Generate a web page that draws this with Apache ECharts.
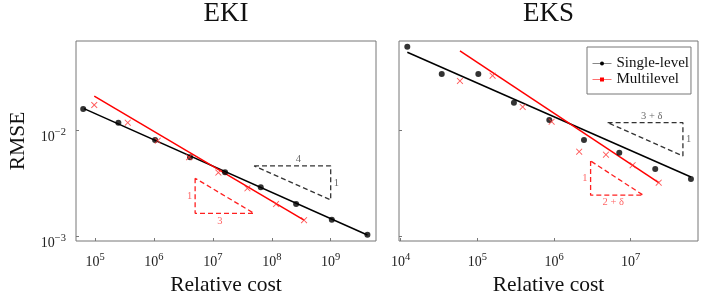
<!DOCTYPE html>
<html><head><meta charset="utf-8">
<script src="https://cdn.jsdelivr.net/npm/echarts@6/dist/echarts.min.js"></script>
<style>html,body{margin:0;padding:0;background:#fff}#c{width:706px;height:294px}</style>
</head><body><div id="c"></div>
<script>
// ---------- data ----------
const panelTitles = ['EKI', 'EKS'];
const xTicksEKI = [1e5, 1e6, 1e7, 1e8, 1e9];
const xTicksEKS = [1e4, 1e5, 1e6, 1e7];
const yTicks = [1e-3, 1e-2];

const ekiSingleX = [6.3e4, 2.49e5, 1.045e6, 4.1e6, 1.61e7, 6.5e7, 2.59e8, 1.045e9, 4.2e9];
const ekiSingleY = [0.0160, 0.0119, 0.00817, 0.00561, 0.00405, 0.00292, 0.00203, 0.00144, 0.00104];
const ekiMultiX = [9.7e4, 3.59e5, 1.16e6, 3.95e6, 1.24e7, 3.86e7, 1.18e8, 3.53e8];
const ekiMultiY = [0.01746, 0.0119, 0.00805, 0.00561, 0.00402, 0.00286, 0.00203, 0.00143];
const ekiSingleFitX = [6.5e4, 4.2e9];
const ekiSingleFitY = [0.01615, 0.001037];
const ekiMultiFitX = [9.7e4, 3.53e8];
const ekiMultiFitY = [0.0212, 0.00143];

const eksSingleX = [1.22e4, 3.43e4, 1.03e5, 3.0e5, 8.68e5, 2.46e6, 7.1e6, 2.09e7, 6.11e7];
const eksSingleY = [0.0620, 0.0343, 0.0343, 0.01837, 0.01262, 0.00817, 0.0062, 0.00435, 0.0035];
const eksMultiX = [5.93e4, 1.58e5, 3.9e5, 9.31e5, 2.13e6, 4.76e6, 1.06e7, 2.32e7];
const eksMultiY = [0.02944, 0.03304, 0.01675, 0.01216, 0.00634, 0.00594, 0.00472, 0.00323];
const eksSingleFitX = [1.22e4, 6.11e7];
const eksSingleFitY = [0.0549, 0.00365];
const eksMultiFitX = [5.93e4, 2.32e7];
const eksMultiFitY = [0.0565, 0.00323];

// slope triangles
const ekiTriBlackX = [5e7, 1e9, 1e9, 5e7];
const ekiTriBlackY = [0.00465, 0.00465, 0.00222, 0.00465];
const ekiTriRedX = [5e6, 5e6, 5e7, 5e6];
const ekiTriRedY = [0.00356, 0.00166, 0.00166, 0.00356];
const eksTriBlackX = [5e6, 4.8e7, 4.8e7, 5e6];
const eksTriBlackY = [0.0119, 0.0119, 0.00577, 0.0119];
const eksTriRedX = [3e6, 3e6, 1.46e7, 3e6];
const eksTriRedY = [0.00518, 0.00246, 0.00246, 0.00518];

// triangle labels: [black run, black rise, red rise, red run]
const ekiTriLabels = ['4', '1', '1', '3'];
const ekiTriLabelX = [2.83e8, 1e9, 5e6, 1.32e7];
const ekiTriLabelY = [0.00465, 0.00319, 0.00238, 0.00166];
const eksTriLabels = ['3 + δ', '1', '1', '2 + δ'];
const eksTriLabelX = [1.88e7, 4.8e7, 3e6, 5.93e6];
const eksTriLabelY = [0.0119, 0.0083, 0.00352, 0.00246];

const legendNames = ['Single-level', 'Multilevel'];
const xName = 'Relative cost';
const yName = 'RMSE';

// ---------- styles ----------
const FONT = '"Liberation Serif", "DejaVu Serif", serif';
const FRAME = '#777';
const pts = (xs, ys) => xs.map((x, i) => [x, ys[i]]);
const CROSS = 'path://M0,1L1,0L5,4L9,0L10,1L6,5L10,9L9,10L5,6L1,10L0,9L4,5Z';

function fmt(v) {
  const e = Math.round(Math.log10(v));
  return '{b|10}{s|' + (e < 0 ? '\u2212' + (-e) : e) + '}';
}
const rich = {
  b: { fontSize: 14, fontFamily: FONT, color: '#222', lineHeight: 17, verticalAlign: 'bottom' },
  s: { fontSize: 10.5, fontFamily: FONT, color: '#222', lineHeight: 11, verticalAlign: 'top' }
};

function xAxis(gi, ticks, lmin, lmax) {
  return {
    type: 'log', logBase: 10, gridIndex: gi,
    min: Math.pow(10, lmin), max: Math.pow(10, lmax),
    axisLine: { show: false },
    splitLine: { show: false },
    minorTick: { show: false },
    axisTick: { show: true, inside: true, length: 3, customValues: ticks, lineStyle: { color: FRAME, width: 1 } },
    axisLabel: { customValues: ticks, formatter: fmt, rich: rich, margin: 11 },
    name: xName, nameLocation: 'middle', nameGap: 30,
    nameTextStyle: { fontFamily: FONT, fontSize: 21.5, color: '#111' }
  };
}
function yAxis(gi, showLabels) {
  return {
    type: 'log', logBase: 10, gridIndex: gi,
    min: Math.pow(10, -3.041), max: Math.pow(10, -1.154),
    axisLine: { show: false },
    splitLine: { show: false },
    minorTick: { show: false },
    axisTick: { show: true, inside: true, length: 3, customValues: yTicks, lineStyle: { color: FRAME, width: 1 } },
    axisLabel: { show: showLabels, customValues: yTicks, formatter: fmt, rich: rich, margin: 10, padding: [10, 0, 0, 0] },
    name: showLabels ? yName : '', nameLocation: 'middle', nameGap: 47, nameRotate: 90,
    nameTextStyle: { fontFamily: FONT, fontSize: 21.5, color: '#111' }
  };
}

function panelSeries(gi, d) {
  const s = [];
  s.push({ name: legendNames[0], type: 'line', xAxisIndex: gi, yAxisIndex: gi,
    data: pts(d.sfx, d.sfy), symbol: 'circle', showSymbol: false,
    lineStyle: { color: '#000', width: 1.5 }, itemStyle: { color: '#000' }, z: 3, silent: true });
  s.push({ name: legendNames[1], type: 'line', xAxisIndex: gi, yAxisIndex: gi,
    data: pts(d.mfx, d.mfy), symbol: 'rect', showSymbol: false,
    lineStyle: { color: '#ff0000', width: 1.5 }, itemStyle: { color: '#ff0000' }, z: 3, silent: true });
  s.push({ name: 'sl-pts-' + gi, type: 'scatter', xAxisIndex: gi, yAxisIndex: gi,
    data: pts(d.sx, d.sy), symbol: 'circle', symbolSize: 6,
    itemStyle: { color: '#000' }, z: 5, silent: true });
  s.push({ name: 'ml-pts-' + gi, type: 'scatter', xAxisIndex: gi, yAxisIndex: gi,
    data: pts(d.mx, d.my), symbol: CROSS, symbolSize: 6.5,
    itemStyle: { color: '#ff3030' }, z: 5, silent: true });
  s.push({ name: 'tri-b-' + gi, type: 'line', xAxisIndex: gi, yAxisIndex: gi,
    data: pts(d.tbx, d.tby), showSymbol: false, symbol: 'none',
    lineStyle: { color: '#333', width: 1.3, type: [5, 3] }, z: 2, silent: true });
  s.push({ name: 'tri-r-' + gi, type: 'line', xAxisIndex: gi, yAxisIndex: gi,
    data: pts(d.trx, d.try_), showSymbol: false, symbol: 'none',
    lineStyle: { color: '#ff2020', width: 1.3, type: [5, 3] }, z: 2, silent: true });
  const sides = ['top', 'right', 'left', 'bottom'];
  const dists = [1, 3, 3, 2];
  const cols = ['#444', '#444', '#ff4040', '#ff4040'];
  s.push({ name: 'tri-lab-' + gi, type: 'scatter', xAxisIndex: gi, yAxisIndex: gi,
    symbolSize: 0, silent: true, z: 6,
    data: d.lt.map((t, i) => ({
      value: [d.lx[i], d.ly[i]],
      label: { show: true, formatter: t, position: sides[i], distance: dists[i],
        color: cols[i], fontFamily: FONT, fontSize: 10.5 }
    }))
  });
  return s;
}

const series = [].concat(
  panelSeries(0, { sfx: ekiSingleFitX, sfy: ekiSingleFitY, mfx: ekiMultiFitX, mfy: ekiMultiFitY,
    sx: ekiSingleX, sy: ekiSingleY, mx: ekiMultiX, my: ekiMultiY,
    tbx: ekiTriBlackX, tby: ekiTriBlackY, trx: ekiTriRedX, try_: ekiTriRedY,
    lt: ekiTriLabels, lx: ekiTriLabelX, ly: ekiTriLabelY }),
  panelSeries(1, { sfx: eksSingleFitX, sfy: eksSingleFitY, mfx: eksMultiFitX, mfy: eksMultiFitY,
    sx: eksSingleX, sy: eksSingleY, mx: eksMultiX, my: eksMultiY,
    tbx: eksTriBlackX, tby: eksTriBlackY, trx: eksTriRedX, try_: eksTriRedY,
    lt: eksTriLabels, lx: eksTriLabelX, ly: eksTriLabelY })
);

const chart = echarts.init(document.getElementById('c'), null, { renderer: 'canvas' });
chart.setOption({
  animation: false,
  backgroundColor: '#fff',
  title: [
    { text: panelTitles[0], left: 226, top: 0, padding: 0, textAlign: 'center',
      textStyle: { fontFamily: FONT, fontSize: 27, fontWeight: 'normal', color: '#111' } },
    { text: panelTitles[1], left: 548.5, top: 0, padding: 0, textAlign: 'center',
      textStyle: { fontFamily: FONT, fontSize: 27, fontWeight: 'normal', color: '#111' } }
  ],
  grid: [
    { left: 76, right: 330, top: 41, bottom: 53, outerBoundsMode: 'none', containLabel: false,
      show: true, borderColor: FRAME, borderWidth: 1, backgroundColor: 'transparent' },
    { left: 399, right: 8, top: 41, bottom: 53, outerBoundsMode: 'none', containLabel: false,
      show: true, borderColor: FRAME, borderWidth: 1, backgroundColor: 'transparent' }
  ],
  xAxis: [xAxis(0, xTicksEKI, 4.677, 9.769), xAxis(1, xTicksEKS, 3.978, 7.878)],
  yAxis: [yAxis(0, true), yAxis(1, false)],
  legend: {
    orient: 'vertical', left: 587, top: 47, padding: [9, 2, 7, 5],
    itemWidth: 19, itemHeight: 5, itemGap: 1,
    borderColor: FRAME, borderWidth: 1, backgroundColor: '#fff',
    textStyle: { fontFamily: FONT, fontSize: 15, color: '#111' },
    selectedMode: false,
    data: [
      { name: legendNames[0], lineStyle: { color: '#888', width: 1 }, itemStyle: { color: '#000' } },
      { name: legendNames[1], lineStyle: { color: '#ff7070', width: 1 }, itemStyle: { color: '#ff0000' } }
    ]
  },
  series: series
});
</script>
</body></html>
